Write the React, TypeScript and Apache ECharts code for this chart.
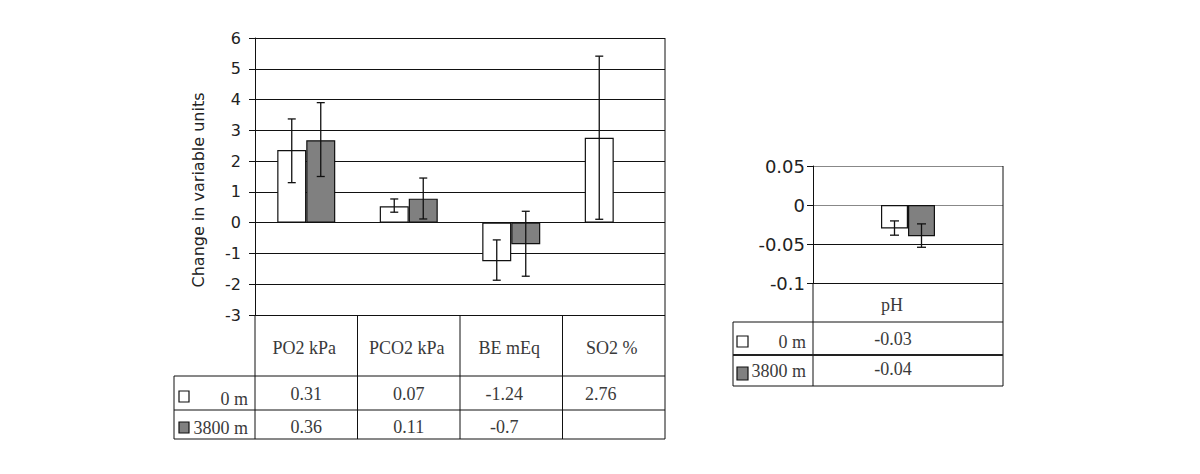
import React, { useEffect, useRef } from "react";
import * as echarts from "echarts";

// ---- Left chart data ----
const categories = ["PO2 kPa", "PCO2 kPa", "BE mEq", "SO2 %"];
const seriesNames = ["0 m", "3800 m"];
const bars0m: (number | null)[] = [2.36, 0.53, -1.25, 2.76];
const bars3800m: (number | null)[] = [2.68, 0.78, -0.7, null];
const err0mLow: (number | null)[] = [1.3, 0.34, -1.87, 0.11];
const err0mHigh: (number | null)[] = [3.37, 0.77, -0.56, 5.41];
const err3800mLow: (number | null)[] = [1.5, 0.12, -1.74, null];
const err3800mHigh: (number | null)[] = [3.9, 1.45, 0.37, null];
const table0m = ["0.31", "0.07", "-1.24", "2.76"];
const table3800m = ["0.36", "0.11", "-0.7", ""];
const yLeftMin = -3;
const yLeftMax = 6;
const yLeftInterval = 1;
const yTitle = "Change in variable units";

// ---- Right chart data (pH) ----
const phCategories = ["pH"];
const ph0m: number[] = [-0.03];
const ph3800m: number[] = [-0.04];
const ph0mLow: number[] = [-0.0387];
const ph0mHigh: number[] = [-0.0204];
const ph3800mLow: number[] = [-0.0542];
const ph3800mHigh: number[] = [-0.0242];
const phTable0m = ["-0.03"];
const phTable3800m = ["-0.04"];
const yRightMin = -0.1;
const yRightMax = 0.05;
const yRightInterval = 0.05;

// ---- Layout / style constants ----
const INK = "#111";
const GREY_BAR = "#808080";
const SANS = "DejaVu Sans";
const SERIF = "Liberation Serif";
const TEXT_C = "#3a3a3a";
const TS = 18;

const G0 = { left: 255, top: 38, width: 410, height: 277 };
const G1 = { left: 813, top: 166, width: 190, height: 117 };
const BW0 = 29;
const BW1 = 27;

function errSeries(
  low: (number | null)[],
  high: (number | null)[],
  axis: number,
  sign: number,
  barW: number,
  cap: number
) {
  const data = low
    .map((l, i) => (l == null || high[i] == null ? null : [i, l, high[i]]))
    .filter((d) => d !== null);
  return {
    type: "custom",
    xAxisIndex: axis,
    yAxisIndex: axis,
    silent: true,
    z: 10,
    encode: { x: 0, y: [1, 2] },
    data,
    renderItem: (_p: any, api: any) => {
      const i = api.value(0);
      const lo = api.coord([i, api.value(1)]);
      const hi = api.coord([i, api.value(2)]);
      const x = lo[0] + (sign * barW) / 2;
      const st = { stroke: INK, lineWidth: 1.3 };
      return {
        type: "group",
        children: [
          { type: "line", shape: { x1: x, y1: lo[1], x2: x, y2: hi[1] }, style: st },
          { type: "line", shape: { x1: x - cap / 2, y1: lo[1], x2: x + cap / 2, y2: lo[1] }, style: st },
          { type: "line", shape: { x1: x - cap / 2, y1: hi[1], x2: x + cap / 2, y2: hi[1] }, style: st },
        ],
      };
    },
  };
}

function yAxisCommon(
  gridIndex: number,
  min: number,
  max: number,
  interval: number,
  margin: number,
  fontSize: number,
  splitColor: any
) {
  return {
    type: "value",
    gridIndex,
    min,
    max,
    interval,
    axisLine: { show: true, lineStyle: { color: INK, width: 1 } },
    axisTick: { show: true, length: 6, lineStyle: { color: INK } },
    axisLabel: { fontSize, fontFamily: SANS, color: "#222", margin },
    splitLine: { show: true, lineStyle: { color: splitColor, width: 1 } },
  };
}

function xAxisCommon(gridIndex: number, data: string[]) {
  return {
    type: "category",
    gridIndex,
    data,
    axisLine: { show: false },
    axisTick: { show: false },
    axisLabel: { show: false },
    splitLine: { show: false },
  };
}

export default function App() {
  const ref = useRef<HTMLDivElement>(null);

  useEffect(() => {
    if (!ref.current) return;
    const chart = echarts.init(ref.current, undefined, { renderer: "svg" });
    chart.setOption({
      animation: false,
      backgroundColor: "#fff",
      grid: [
        { ...G0, containLabel: false },
        { ...G1, containLabel: false },
      ],
      xAxis: [xAxisCommon(0, categories), xAxisCommon(1, phCategories)],
      yAxis: [
        yAxisCommon(0, yLeftMin, yLeftMax, yLeftInterval, 14, 16, INK),
        yAxisCommon(1, yRightMin, yRightMax, yRightInterval, 8, 18, [INK, INK, "#888", "#888"]),
      ],
      series: [
        {
          name: seriesNames[0],
          type: "bar",
          xAxisIndex: 0,
          yAxisIndex: 0,
          data: bars0m,
          barWidth: BW0,
          barGap: "0%",
          itemStyle: { color: "#fff", borderColor: INK, borderWidth: 1.2 },
        },
        {
          name: seriesNames[1],
          type: "bar",
          xAxisIndex: 0,
          yAxisIndex: 0,
          data: bars3800m,
          barWidth: BW0,
          barGap: "0%",
          itemStyle: { color: GREY_BAR, borderColor: INK, borderWidth: 1.2 },
        },
        errSeries(err0mLow, err0mHigh, 0, -1, BW0, 8),
        errSeries(err3800mLow, err3800mHigh, 0, 1, BW0, 8),
        {
          name: seriesNames[0],
          type: "bar",
          xAxisIndex: 1,
          yAxisIndex: 1,
          data: ph0m,
          barWidth: BW1,
          barGap: "0%",
          itemStyle: { color: "#fff", borderColor: INK, borderWidth: 1.2 },
        },
        {
          name: seriesNames[1],
          type: "bar",
          xAxisIndex: 1,
          yAxisIndex: 1,
          data: ph3800m,
          barWidth: BW1,
          barGap: "0%",
          itemStyle: { color: GREY_BAR, borderColor: INK, borderWidth: 1.2 },
        },
        errSeries(ph0mLow, ph0mHigh, 1, -1, BW1, 9),
        errSeries(ph3800mLow, ph3800mHigh, 1, 1, BW1, 9),
      ],
    });

    // ---- Data tables drawn under the plots ----
    const els: any[] = [];
    const line = (x1: number, y1: number, x2: number, y2: number, w = 1, c = INK) =>
      els.push({ type: "line", z: 20, shape: { x1, y1, x2, y2 }, style: { stroke: c, lineWidth: w } });
    const text = (t: string, x: number, y: number, align: string, family: string, size: number, color = TEXT_C) =>
      els.push({
        type: "text",
        z: 20,
        x,
        y,
        style: { text: t, fill: color, fontFamily: family, fontSize: size, align, verticalAlign: "middle" },
      });
    const square = (x: number, y: number, w: number, h: number, fill: string) =>
      els.push({ type: "rect", z: 20, shape: { x, y, width: w, height: h }, style: { fill, stroke: INK, lineWidth: 1.2 } });

    // Left table
    const L = G0.left;
    const R = G0.left + G0.width;
    const T = G0.top;
    const B = G0.top + G0.height;
    const rows = [376, 410, 439];
    const tl = 174;
    const colW = G0.width / categories.length;
    line(R, T, R, rows[2]);
    line(L, B, L, rows[2]);
    for (let k = 1; k < categories.length; k++) line(L + k * colW, B, L + k * colW, rows[2]);
    line(tl, rows[0], tl, rows[2]);
    rows.forEach((y) => line(tl, y, R, y));
    const valDx = [0, 0, -7, -13];
    categories.forEach((c, i) => {
      const cx = chart.convertToPixel({ xAxisIndex: 0 }, c) as unknown as number;
      text(c, cx - 2, 348, "center", SERIF, TS);
      text(table0m[i], cx + valDx[i], 394, "center", SERIF, TS);
      text(table3800m[i], cx + valDx[i], 426.5, "center", SERIF, TS);
    });
    square(179, 391, 10, 11, "#fff");
    square(179, 422, 10, 11, GREY_BAR);
    text(seriesNames[0], 248, 399, "right", SERIF, TS);
    text(seriesNames[1], 248, 427.5, "right", SERIF, TS);
    // Y axis title
    els.push({
      type: "text",
      z: 20,
      x: 198,
      y: 190,
      rotation: Math.PI / 2,
      style: {
        text: yTitle,
        fill: "#222",
        fontFamily: SANS,
        fontSize: 16,
        align: "center",
        verticalAlign: "middle",
      },
    });

    // Right table
    const L2 = G1.left;
    const R2 = G1.left + G1.width;
    const T2 = G1.top;
    const B2 = G1.top + G1.height;
    const rows2 = [322, 355, 386];
    const tl2 = 733;
    line(R2, T2, R2, rows2[2]);
    line(L2, B2, L2, rows2[2]);
    line(tl2, rows2[0], tl2, rows2[2]);
    line(tl2, rows2[0], R2, rows2[0]);
    line(tl2, rows2[1], R2, rows2[1], 2, "#222");
    line(tl2, rows2[2], R2, rows2[2]);
    phCategories.forEach((c, i) => {
      const cx = chart.convertToPixel({ xAxisIndex: 1 }, c) as unknown as number;
      text(c, cx - 16, 305, "center", SERIF, TS);
      text(phTable0m[i], cx - 15, 338.5, "center", SERIF, TS);
      text(phTable3800m[i], cx - 15, 369, "center", SERIF, TS);
    });
    square(737, 336, 11, 11, "#fff");
    square(737, 367, 11, 13, GREY_BAR);
    text(seriesNames[0], 806, 341.5, "right", SERIF, TS);
    text(seriesNames[1], 806, 371, "right", SERIF, TS);

    chart.setOption({ graphic: { elements: els } });

    return () => chart.dispose();
  }, []);

  return (
    <div
      ref={ref}
      style={{ position: "fixed", left: 0, top: 0, width: 1200, height: 474, background: "#fff" }}
    />
  );
}
